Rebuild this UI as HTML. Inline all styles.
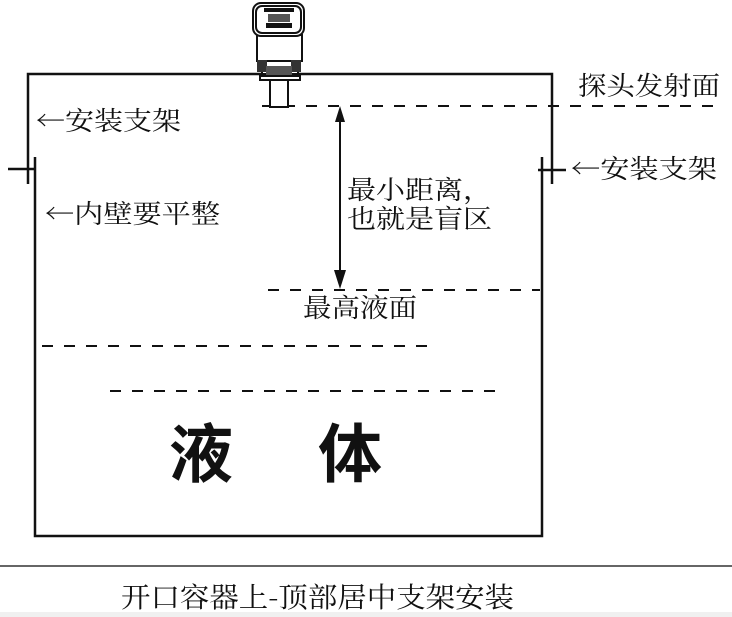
<!DOCTYPE html>
<html><head><meta charset="utf-8"><style>
html,body{margin:0;padding:0;background:#fff;width:732px;height:617px;overflow:hidden}
svg text{font-family:"Noto Serif CJK SC","Noto Sans CJK SC",serif;fill:#111}
</style></head><body>
<svg width="732" height="617" viewBox="0 0 732 617" xmlns="http://www.w3.org/2000/svg">
<rect x="0" y="612" width="732" height="5" fill="#f0f0f0"/>
<g stroke="#111" stroke-width="2.5" fill="none">
<polyline points="28,184 28,74 552,74 552,184"/>
<polyline points="35,157 35,536 542,536 542,157"/>
<line x1="8" y1="169" x2="36" y2="169"/>
<line x1="538" y1="170" x2="566" y2="170"/>
</g>
<line x1="0" y1="566" x2="732" y2="566" stroke="#333" stroke-width="1.5"/>
<g stroke="#111" stroke-width="2" stroke-dasharray="11,11">
<line x1="262" y1="106" x2="724" y2="106"/>
<line x1="268" y1="290" x2="540" y2="290"/>
<line x1="42" y1="346" x2="434" y2="346"/>
<line x1="110" y1="391" x2="502" y2="391"/>
</g>
<line x1="340" y1="118" x2="340" y2="276" stroke="#111" stroke-width="2"/>
<polygon points="340,106 335,122 345,122" fill="#111"/>
<polygon points="340,289 334,270 346,270" fill="#111"/>
<!-- sensor -->
<g stroke="#111" stroke-width="2" fill="#fff">
<rect x="270" y="80" width="18" height="27"/>
<rect x="260" y="76" width="40" height="4"/>
<rect x="262" y="60" width="36" height="14"/>
<rect x="257" y="35" width="45" height="26"/>
<rect x="253" y="3" width="51" height="33" rx="8"/>
<rect x="256" y="6" width="45" height="27" rx="6"/>
</g>
<rect x="264" y="8" width="30" height="4" fill="#111"/>
<rect x="268" y="14" width="22" height="8" fill="#555"/>
<rect x="266" y="23" width="26" height="5" fill="#111"/>
<rect x="257" y="60" width="10" height="12" fill="#333"/>
<rect x="291" y="60" width="10" height="12" fill="#333"/>
<rect x="266" y="66" width="26" height="9" fill="#555"/>
<g font-size="26">
<text x="36" y="130" textLength="145" lengthAdjust="spacingAndGlyphs">←安装支架</text>
<text x="45" y="223" textLength="175" lengthAdjust="spacingAndGlyphs">←内壁要平整</text>
<text x="578" y="95" textLength="142" lengthAdjust="spacingAndGlyphs">探头发射面</text>
<text x="571" y="178" textLength="146" lengthAdjust="spacingAndGlyphs">←安装支架</text>
<text x="347" y="199" textLength="145" lengthAdjust="spacingAndGlyphs">最小距离，</text>
<text x="347" y="228" textLength="145" lengthAdjust="spacingAndGlyphs">也就是盲区</text>
<text x="303" y="317" textLength="114" lengthAdjust="spacingAndGlyphs">最高液面</text>
</g>
<text x="169" y="477" font-size="64" font-weight="bold" style="font-family:'Noto Sans CJK SC',sans-serif">液</text>
<text x="318" y="477" font-size="64" font-weight="bold" style="font-family:'Noto Sans CJK SC',sans-serif">体</text>
<text x="121" y="607" font-size="28" textLength="393" lengthAdjust="spacingAndGlyphs">开口容器上-顶部居中支架安装</text>
</svg>
</body></html>
